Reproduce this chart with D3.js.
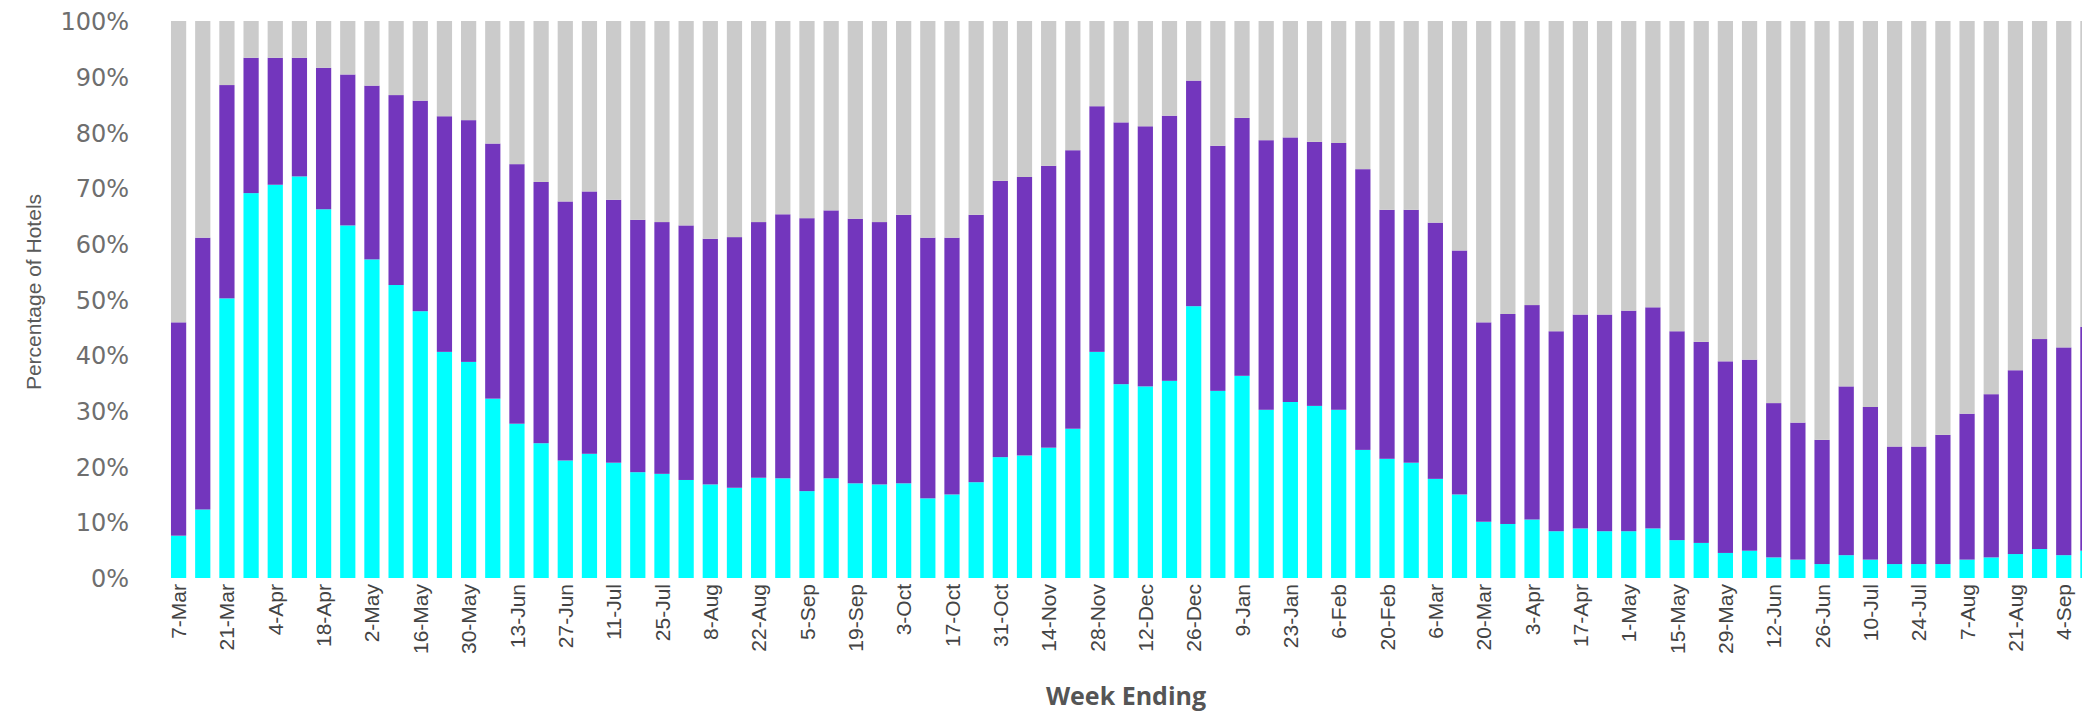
<!DOCTYPE html>
<html lang="en">

<head>
    <meta charset="UTF-8">
    <title>Percentage of Hotels by Week Ending</title>
    <script src="https://d3js.org/d3.v7.min.js"></script>
    <style>
        body,
        html {
            margin: 0;
            padding: 0;
            overflow: hidden;
            background: #ffffff;
        }

        .y-axis text {
            font-family: "DejaVu Sans", sans-serif;
            font-size: 24px;
            fill: #6e6e6e;
        }

        .x-axis text {
            font-family: "Liberation Sans", Arial, sans-serif;
            font-size: 21px;
            fill: #444444;
        }

        .axis-title {
            font-family: "Liberation Sans", Arial, sans-serif;
            font-size: 21px;
            fill: #5a5a5a;
        }

        .x-title {
            font-family: "Open Sans", sans-serif;
            font-size: 25px;
            font-weight: bold;
            fill: #555555;
        }
    </style>
</head>

<body>
    <svg width="2082" height="713" id="chart"></svg>
    <script>
        const weeks = [
            "7-Mar", "14-Mar", "21-Mar", "28-Mar", "4-Apr", "11-Apr", "18-Apr", "25-Apr",
            "2-May", "9-May", "16-May", "23-May", "30-May", "6-Jun", "13-Jun", "20-Jun",
            "27-Jun", "4-Jul", "11-Jul", "18-Jul", "25-Jul", "1-Aug", "8-Aug", "15-Aug",
            "22-Aug", "29-Aug", "5-Sep", "12-Sep", "19-Sep", "26-Sep", "3-Oct", "10-Oct",
            "17-Oct", "24-Oct", "31-Oct", "7-Nov", "14-Nov", "21-Nov", "28-Nov", "5-Dec",
            "12-Dec", "19-Dec", "26-Dec", "2-Jan", "9-Jan", "16-Jan", "23-Jan", "30-Jan",
            "6-Feb", "13-Feb", "20-Feb", "27-Feb", "6-Mar", "13-Mar", "20-Mar", "27-Mar",
            "3-Apr", "10-Apr", "17-Apr", "24-Apr", "1-May", "8-May", "15-May", "22-May",
            "29-May", "5-Jun", "12-Jun", "19-Jun", "26-Jun", "3-Jul", "10-Jul", "17-Jul",
            "24-Jul", "31-Jul", "7-Aug", "14-Aug", "21-Aug", "28-Aug", "4-Sep", "11-Sep"
        ];

        // bottom segment (cyan), %
        const cyanValues = [
            7.6, 12.3, 50.2, 69.1, 70.6, 72.1, 66.2, 63.3, 57.2, 52.6, 47.9, 40.6, 38.8, 32.2, 27.7, 24.2,
            21.1, 22.3, 20.7, 19.0, 18.7, 17.6, 16.8, 16.2, 18.0, 17.9, 15.6, 17.9, 17.0, 16.8, 17.0, 14.3,
            15.0, 17.2, 21.7, 22.0, 23.4, 26.8, 40.6, 34.8, 34.4, 35.4, 48.8, 33.6, 36.3, 30.2, 31.6, 30.9,
            30.2, 23.0, 21.4, 20.7, 17.8, 15.0, 10.1, 9.7, 10.5, 8.4, 8.9, 8.4, 8.4, 8.9, 6.8, 6.3,
            4.5, 4.9, 3.7, 3.3, 2.5, 4.1, 3.3, 2.5, 2.5, 2.5, 3.3, 3.7, 4.3, 5.2, 4.1, 4.9
        ];

        // middle segment (purple), %
        const purpleValues = [
            38.3, 48.8, 38.3, 24.3, 22.8, 21.3, 25.4, 27.1, 31.2, 34.1, 37.8, 42.3, 43.4, 45.8, 46.6, 46.9,
            46.5, 47.1, 47.2, 45.3, 45.2, 45.7, 44.1, 45.0, 45.9, 47.4, 49.0, 48.1, 47.5, 47.1, 48.2, 46.8,
            46.1, 48.0, 49.6, 50.0, 50.6, 50.0, 44.1, 47.0, 46.7, 47.6, 40.5, 44.0, 46.3, 48.4, 47.5, 47.4,
            47.9, 50.4, 44.7, 45.4, 46.0, 43.8, 35.8, 37.7, 38.5, 35.9, 38.4, 38.9, 39.6, 39.7, 37.5, 36.1,
            34.4, 34.3, 27.7, 24.6, 22.3, 30.3, 27.4, 21.1, 21.1, 23.2, 26.2, 29.3, 33.0, 37.7, 37.3, 40.2
        ];

        // top segment (grey), %
        const greyValues = [
            54.1, 38.9, 11.5, 6.6, 6.6, 6.6, 8.4, 9.6, 11.6, 13.3, 14.3, 17.1, 17.8, 22.0, 25.7, 28.9,
            32.4, 30.6, 32.1, 35.7, 36.1, 36.7, 39.1, 38.8, 36.1, 34.7, 35.4, 34.0, 35.5, 36.1, 34.8, 38.9,
            38.9, 34.8, 28.7, 28.0, 26.0, 23.2, 15.3, 18.2, 18.9, 17.0, 10.7, 22.4, 17.4, 21.4, 20.9, 21.7,
            21.9, 26.6, 33.9, 33.9, 36.2, 41.2, 54.1, 52.6, 51.0, 55.7, 52.7, 52.7, 52.0, 51.4, 55.7, 57.6,
            61.1, 60.8, 68.6, 72.1, 75.2, 65.6, 69.3, 76.4, 76.4, 74.3, 70.5, 67.0, 62.7, 57.1, 58.6, 54.9
        ];

        const yTicks = [0, 10, 20, 30, 40, 50, 60, 70, 80, 90, 100];

        const seriesKeys = ["cyan", "purple", "grey"];
        const colors = { cyan: "#00ffff", purple: "#7336bd", grey: "#cbcbcb" };

        const rows = weeks.map((w, i) => ({
            week: w,
            cyan: cyanValues[i],
            purple: purpleValues[i],
            grey: greyValues[i]
        }));

        const svg = d3.select("#chart");

        const x = d3.scaleBand()
            .domain(weeks)
            .range([166.5, 2100])
            .paddingInner(0.37)
            .paddingOuter(0.185);

        const y = d3.scaleLinear()
            .domain([0, 100])
            .range([578, 21]);

        const stacked = d3.stack().keys(seriesKeys)(rows);

        svg.append("g")
            .selectAll("g")
            .data(stacked)
            .enter()
            .append("g")
            .attr("fill", d => colors[d.key])
            .selectAll("rect")
            .data(d => d)
            .enter()
            .append("rect")
            .attr("x", d => x(d.data.week))
            .attr("width", x.bandwidth())
            .attr("y", d => y(d[1]))
            .attr("height", d => y(d[0]) - y(d[1]));

        // y axis, no line and no tick marks
        const yAxis = svg.append("g")
            .attr("class", "y-axis")
            .attr("transform", "translate(129,0)")
            .call(d3.axisLeft(y)
                .tickValues(yTicks)
                .tickFormat(d => d + "%")
                .tickSize(0)
                .tickPadding(0));
        yAxis.select(".domain").remove();
        yAxis.selectAll("text").attr("dy", "0.36em");

        // x axis, every second week labelled
        const xAxis = svg.append("g")
            .attr("class", "x-axis")
            .attr("transform", "translate(0,578)")
            .call(d3.axisBottom(x)
                .tickValues(weeks.filter((d, i) => i % 2 === 0))
                .tickSize(0));
        xAxis.select(".domain").remove();
        xAxis.selectAll("text")
            .attr("transform", "rotate(-90)")
            .attr("x", -6)
            .attr("y", 0)
            .attr("dy", "0.36em")
            .attr("text-anchor", "end");

        svg.append("text")
            .attr("class", "axis-title")
            .attr("transform", "translate(41,292) rotate(-90)")
            .attr("text-anchor", "middle")
            .text("Percentage of Hotels");

        svg.append("text")
            .attr("class", "x-title")
            .attr("x", 1126)
            .attr("y", 705)
            .attr("text-anchor", "middle")
            .text("Week Ending");
    </script>
</body>

</html>
